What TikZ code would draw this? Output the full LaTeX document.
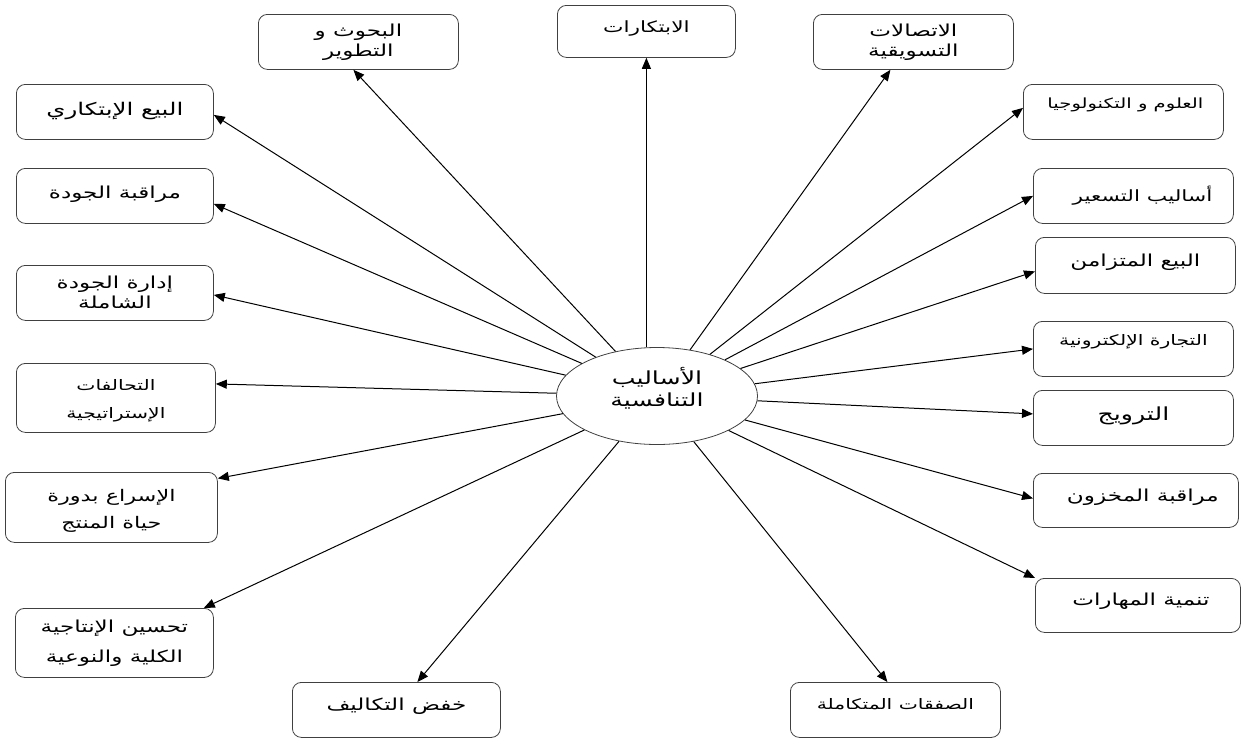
\documentclass[tikz,border=0pt]{standalone}
\usepackage{fontspec}
\newfontfamily\arabicfont[Script=Arabic,FakeStretch=1.4]{DejaVu Sans}
\TeXXeTstate=1
\usetikzlibrary{arrows.meta,shapes.geometric}
% lift a label inside its box without changing the box size
\newcommand\liftlabel[2]{\raisebox{#1}[\height][\depth]{#2}}
\newcommand\fsz[1]{\arabicfont\fontsize{#1}{20}\selectfont}
\tikzset{
  box/.style={draw=black!75, line width=0.8pt, rounded corners=9pt,
    anchor=north west, align=center, inner sep=2pt,
    font=\fsz{16.5}},
  hub/.style={draw=black!75, line width=0.8pt, ellipse, inner sep=0pt,
    minimum width=201pt, minimum height=97pt, align=center,
    font=\arabicfont\fontsize{18}{22}\selectfont},
  link/.style={draw=black, line width=1pt,
    -{Triangle[length=11pt,width=9pt]}}
}
\begin{document}
\begin{tikzpicture}[x=1pt,y=1pt]
\useasboundingbox (0,0) rectangle (1241,-740);

% centre
\node[hub] (hub) at (657,-396) {\liftlabel{6pt}{\begin{tabular}{@{}c@{}}\beginR الأساليب\endR\\\beginR التنافسية\endR\end{tabular}}};

% top row
\node[box, minimum width=200pt, minimum height=55pt] (rd) at (258,-14) {\beginR البحوث و\endR\\\beginR التطوير\endR};
\node[box, minimum width=178pt, minimum height=52pt, font=\fsz{15.5}] (inn) at (557,-5) {\liftlabel{3pt}{\beginR الابتكارات\endR}};
\node[box, minimum width=200pt, minimum height=55pt] (mc) at (813,-14) {\beginR الاتصالات\endR\\\beginR التسويقية\endR};

% left column
\node[box, minimum width=197pt, minimum height=55pt, font=\fsz{17.5}] (is) at (16,-84) {\liftlabel{1pt}{\beginR البيع الإبتكاري\endR}};
\node[box, minimum width=197pt, minimum height=55pt] (qc) at (16,-168) {\liftlabel{2pt}{\beginR مراقبة الجودة\endR}};
\node[box, minimum width=197pt, minimum height=55pt] (tqm) at (16,-265) {\beginR إدارة الجودة\endR\\\beginR الشاملة\endR};
\node[box, minimum width=199pt, minimum height=69pt, font=\fsz{14.5}] (alli) at (16,-363) {\liftlabel{-3pt}{\begin{tabular}{@{}c@{}}\beginR التحالفات\endR\\[8pt]\beginR الإستراتيجية\endR\end{tabular}}};
\node[box, minimum width=212pt, minimum height=70pt, font=\fsz{16}] (speed) at (5,-472) {\liftlabel{-4pt}{\begin{tabular}{@{}c@{}}\beginR الإسراع بدورة\endR\\[7pt]\beginR حياة المنتج\endR\end{tabular}}};
\node[box, minimum width=198pt, minimum height=69pt] (prod) at (15,-608) {\beginR تحسين الإنتاجية\endR\\[10pt]\beginR الكلية والنوعية\endR};

% right column
\node[box, minimum width=200pt, minimum height=55pt, font=\fsz{14}] (st) at (1023,-84) {\hspace*{4pt}\liftlabel{7pt}{\beginR العلوم و التكنولوجيا\endR}};
\node[box, minimum width=200pt, minimum height=55pt, font=\fsz{15.5}] (pr) at (1033,-168) {\hspace*{18pt}\liftlabel{0pt}{\beginR أساليب التسعير\endR}};
\node[box, minimum width=200pt, minimum height=56pt] (ss) at (1035,-237) {\liftlabel{3pt}{\beginR البيع المتزامن\endR}};
\node[box, minimum width=200pt, minimum height=55pt, font=\fsz{14.5}] (ec) at (1033,-321) {\liftlabel{7pt}{\beginR التجارة الإلكترونية\endR}};
\node[box, minimum width=200pt, minimum height=55pt, font=\fsz{18}] (promo) at (1033,-390) {\liftlabel{2pt}{\beginR الترويج\endR}};
\node[box, minimum width=205pt, minimum height=54pt] (inv) at (1033,-473) {\hspace*{14pt}\liftlabel{3pt}{\beginR مراقبة المخزون\endR}};
\node[box, minimum width=205pt, minimum height=54pt] (sk) at (1035,-578) {\hspace*{6pt}\liftlabel{4pt}{\beginR تنمية المهارات\endR}};

% bottom row
\node[box, minimum width=210pt, minimum height=55pt, font=\fsz{14.5}] (deals) at (790,-682) {\liftlabel{6pt}{\beginR الصفقات المتكاملة\endR}};
\node[box, minimum width=208pt, minimum height=55pt] (cost) at (292,-682) {\liftlabel{4pt}{\beginR خفض التكاليف\endR}};

% connectors
\draw[link] (hub) -- ([xshift=-5pt]rd.south);
\draw[link] (hub.north -| inn.south) -- (inn.south);
\draw[link] (hub) -- ([xshift=-23pt]mc.south);
\draw[link] (hub) -- ([yshift=4pt]st.west);
\draw[link] (hub) -- (pr.west);
\draw[link] (hub) -- ([yshift=-6pt]ss.west);
\draw[link] (hub) -- (ec.west);
\draw[link] (hub) -- ([yshift=4pt]promo.west);
\draw[link] (hub) -- ([yshift=2pt]inv.west);
\draw[link] (hub) -- (sk.north west);
\draw[link] (hub) -- ([xshift=-8pt]deals.north);
\draw[link] (hub) -- ([xshift=21pt]cost.north);
\draw[link] (hub) -- ([xshift=-10pt]prod.north east);
\draw[link] (hub) -- ([yshift=29pt]speed.east);
\draw[link] (hub) -- ([yshift=14pt]alli.east);
\draw[link] (hub) -- ([yshift=-2pt]tqm.east);
\draw[link] (hub) -- ([yshift=-8pt]qc.east);
\draw[link] (hub) -- ([yshift=-3pt]is.east);
\end{tikzpicture}
\end{document}
